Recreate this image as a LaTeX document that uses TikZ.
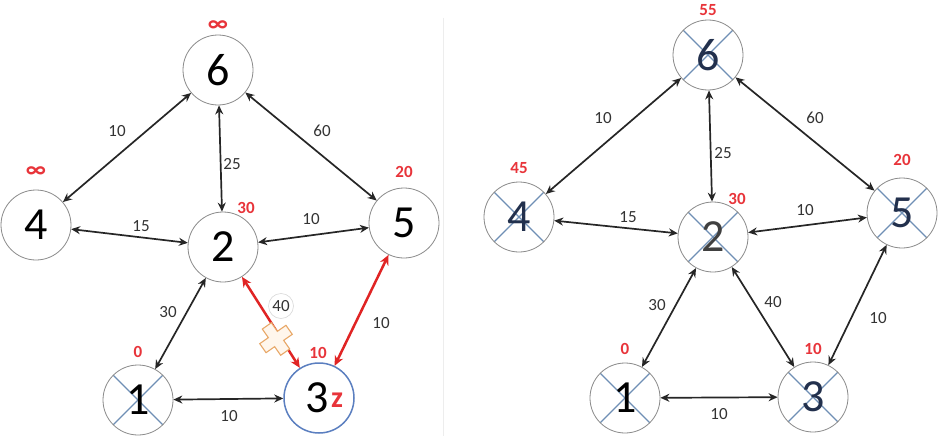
\documentclass[tikz,border=0pt]{standalone}
\usepackage{fontspec}
\setmainfont{Carlito}
\usetikzlibrary{arrows.meta}
\definecolor{cgray}{HTML}{8A8A8A}
\definecolor{xblue}{HTML}{6F8FB5}
\definecolor{lblred}{HTML}{E8343A}
\definecolor{arrred}{HTML}{E02424}
\definecolor{nblue}{HTML}{5B7FC0}
\definecolor{navy}{HTML}{22304D}
\definecolor{xorange}{HTML}{E8A868}
\definecolor{xfill}{HTML}{FFF6EC}
\definecolor{sep}{HTML}{EDEDED}
\tikzset{
  vtx/.style={circle, draw=cgray, line width=0.8pt, minimum size=70pt, inner sep=0pt, fill=white,
    font=\fontsize{46}{46}\selectfont},
  crossed/.style={path picture={
    \draw[xblue, line width=1.2pt] (path picture bounding box.center) ++(45:35pt) -- ++(225:70pt);
    \draw[xblue, line width=1.2pt] (path picture bounding box.center) ++(135:35pt) -- ++(315:70pt);}},
  edge/.style={draw=black!85, line width=1.7pt, {Stealth[length=9pt,width=8pt]}-{Stealth[length=9pt,width=8pt]}},
  redge/.style={draw=arrred, line width=2.5pt, {Stealth[length=10pt,width=9pt]}-{Stealth[length=10pt,width=9pt]}},
  elbl/.style={text=black!80, font=\fontsize{17}{17}\selectfont, inner sep=1pt},
  dlbl/.style={text=lblred, font=\bfseries\fontsize{17}{17}\selectfont, inner sep=1pt},
}
\begin{document}
\begin{tikzpicture}[x=1pt, y=-1pt]
\useasboundingbox (0,0) rectangle (941,436);
\fill[white] (0,0) rectangle (941,436);
\draw[sep, line width=1pt] (443,18) -- (443,436);

% ---------- left panel ----------
\node[vtx] (a6) at (218,70) {6};
\node[vtx] (a4) at (36,225) {4};
\node[vtx] (a2) at (223,247) {2};
\node[vtx] (a5) at (404,223) {5};
\node[vtx, crossed] (a1) at (138,400) {1};
\node[vtx, draw=nblue, line width=1.5pt] (a3) at (319,398) {\hspace*{-4pt}3};

\draw[edge] (a4) -- (a6);
\draw[edge] (a6) -- (a2);
\draw[edge] (a6) -- (a5);
\draw[edge] (a4) -- (a2);
\draw[edge] (a2) -- (a5);
\draw[edge] (a2) -- (a1);
\draw[edge] (a1) -- (a3);
\draw[redge] (a2) -- (a3);
\draw[redge] (a5) -- (a3);

% orange cross mark on edge 2-3
\draw[xorange, fill=xfill, line width=1.1pt, rotate around={35:(276,339)}]
  (270.5,323) -- (281.5,323) -- (281.5,333.5) -- (292,333.5) -- (292,344.5) -- (281.5,344.5) -- (281.5,355)
  -- (270.5,355) -- (270.5,344.5) -- (260,344.5) -- (260,333.5) -- (270.5,333.5) -- cycle;
\node[circle, draw=black!15, fill=white, line width=0.6pt, minimum size=25pt, inner sep=0pt,
  text=black!80, font=\fontsize{17}{17}\selectfont] (a40) at (281,306) {40};

\node[dlbl, font=\bfseries\fontsize{24}{24}\selectfont] (ad6) at (218,26) {∞};
\node[dlbl, font=\bfseries\fontsize{24}{24}\selectfont] (ad4) at (36,172) {∞};
\node[dlbl] (ad2) at (246,208) {30};
\node[dlbl] (ad5) at (404,172) {20};
\node[dlbl] (ad1) at (138,352) {0};
\node[dlbl] (ad3) at (318,353) {10};
\node[text=lblred, font=\bfseries\fontsize{30}{30}\selectfont, inner sep=0pt] (az) at (337,400) {z};

\node[elbl] (ae46) at (117,131) {10};
\node[elbl] (ae62) at (232,164) {25};
\node[elbl] (ae65) at (322,131) {60};
\node[elbl] (ae42) at (141,226) {15};
\node[elbl] (ae25) at (311,219) {10};
\node[elbl] (ae21) at (168,312) {30};
\node[elbl] (ae53) at (381,323) {10};
\node[elbl] (ae13) at (229,416) {10};

% ---------- right panel ----------
\node[vtx, crossed, text=navy] (b6) at (708,55) {6};
\node[vtx, crossed, text=navy] (b4) at (519,217) {4};
\node[vtx, crossed, text=black!75] (b2) at (713,237) {2};
\node[vtx, crossed, text=navy] (b5) at (902,213) {5};
\node[vtx, crossed] (b1) at (625,398) {1};
\node[vtx, crossed, text=navy] (b3) at (813,397) {3};

\draw[edge] (b4) -- (b6);
\draw[edge] (b6) -- (b2);
\draw[edge] (b6) -- (b5);
\draw[edge] (b4) -- (b2);
\draw[edge] (b2) -- (b5);
\draw[edge] (b2) -- (b1);
\draw[edge] (b2) -- (b3);
\draw[edge] (b5) -- (b3);
\draw[edge] (b1) -- (b3);

\node[dlbl] (bd6) at (708,10) {55};
\node[dlbl] (bd4) at (519,168) {45};
\node[dlbl] (bd2) at (737,199) {30};
\node[dlbl] (bd5) at (902,160) {20};
\node[dlbl] (bd1) at (625,349) {0};
\node[dlbl] (bd3) at (813,349) {10};

\node[elbl] (be46) at (603,118) {10};
\node[elbl] (be62) at (723,153) {25};
\node[elbl] (be65) at (815,118) {60};
\node[elbl] (be42) at (628,217) {15};
\node[elbl] (be25) at (805,210) {10};
\node[elbl] (be21) at (657,305) {30};
\node[elbl] (be23) at (773,302) {40};
\node[elbl] (be53) at (878,318) {10};
\node[elbl] (be13) at (719,414) {10};
\end{tikzpicture}
\end{document}
